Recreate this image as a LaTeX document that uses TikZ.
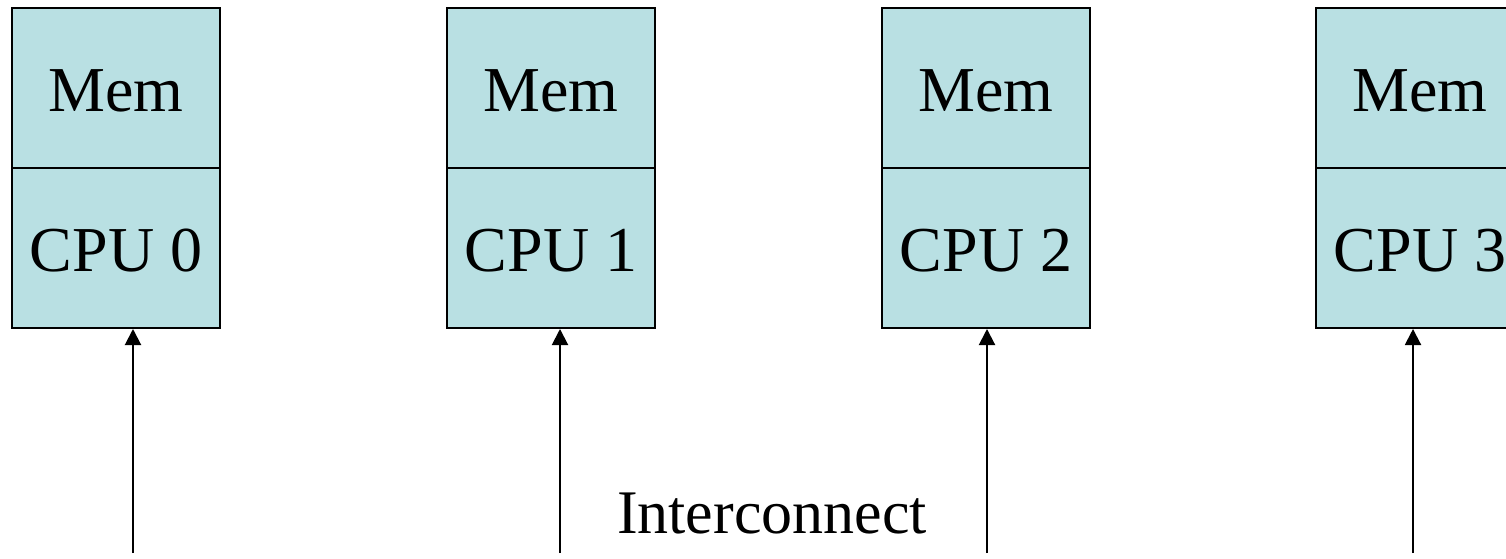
\documentclass[tikz,border=0pt]{standalone}
\usepackage{fontspec}
\setmainfont{Liberation Serif}
\usetikzlibrary{arrows.meta}
\definecolor{cellfill}{RGB}{185,224,227}
\tikzset{
  cell/.style={draw=black, line width=2pt, fill=cellfill, rectangle,
    minimum width=208pt, minimum height=160pt, inner sep=0pt,
    text height=47pt, text depth=0pt, font=\fontsize{64}{77}\selectfont},
  link/.style={line width=2pt, -{Triangle[width=16pt,length=16pt]}},
  label/.style={font=\fontsize{62}{75}\selectfont, inner sep=0pt}
}
\begin{document}
\begin{tikzpicture}[x=1pt,y=-1pt]
  \useasboundingbox (0,0) rectangle (1506,559);
  \clip (0,0) rectangle (1506,559);
  % memory / processor pairs
  \foreach \i/\xl/\xa in {0/12/133, 1/447/560, 2/882/987, 3/1316/1413} {
    \node[cell] (mem\i) at (\xl+104,88) {Mem};
    \node[cell] (cpu\i) at (\xl+104,248) {CPU \i};
    \coordinate (foot\i) at (\xa,553);
    \draw[link] (foot\i) -- (foot\i |- cpu\i.south);
  }
  \node[label, anchor=base] (net) at (772,533) {Interconnect};
\end{tikzpicture}
\end{document}
